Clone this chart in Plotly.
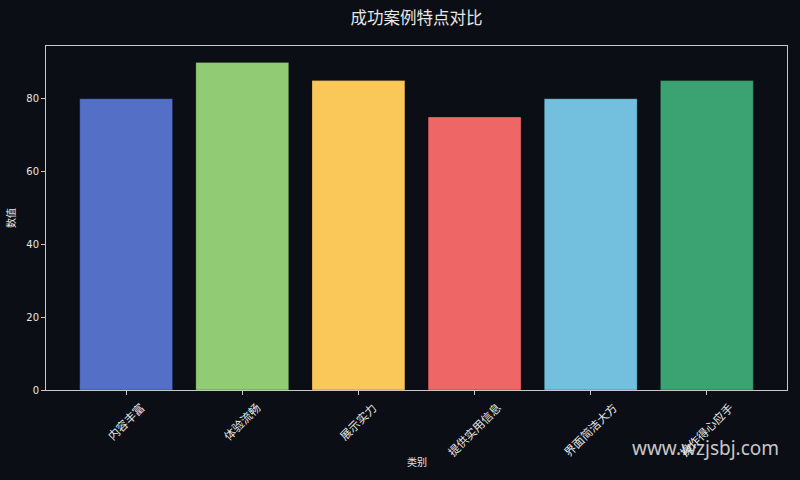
import plotly.graph_objects as go

categories = ["内容丰富", "体验流畅", "展示实力", "提供实用信息", "界面简洁大方", "操作得心应手"]
values = [80, 90, 85, 75, 80, 85]
colors = ["#5470c6", "#91cc75", "#fac858", "#ee6666", "#73c0de", "#3ba272"]
y_ticks = [0, 20, 40, 60, 80]

BG = "#0b0e14"
FG = "#e6e6e6"
SPINE = "#c8c8c8"
FONT = "DejaVu Sans, Noto Sans CJK SC, sans-serif"

L, R, T, B = 46, 13, 46, 90
pw, ph = 800 - L - R, 480 - T - B

fig = go.Figure()
fig.add_trace(go.Bar(
    x=categories, y=values, width=0.8,
    marker=dict(color=colors, line=dict(color="rgba(0,0,0,0.25)", width=1)),
    showlegend=False,
))

# rotated category labels (centered at tick, matplotlib style)
for c in categories:
    fig.add_annotation(
        x=c, xref="x", y=-0.022, yref="paper",
        text=c, textangle=-45, showarrow=False,
        xanchor="center", yanchor="top",
        font=dict(family=FONT, size=11.5, color=FG),
    )

fig.add_annotation(
    x=0.5, xref="paper", y=(480 - B - 462) / ph, yref="paper", text="类别", showarrow=False,
    xanchor="center", yanchor="middle",
    font=dict(family=FONT, size=10, color=FG),
)

fig.add_annotation(
    x=(781 - L) / pw, xref="paper", y=(480 - B - 448) / ph, yref="paper",
    text="www.wzjsbj.com", showarrow=False,
    font=dict(family="Noto Sans, DejaVu Sans, sans-serif", size=19, color="rgba(235,235,235,0.85)"),
    xanchor="right", yanchor="middle",
)

fig.update_layout(
    width=800, height=480,
    paper_bgcolor=BG, plot_bgcolor=BG,
    margin=dict(l=L, r=R, t=T, b=B),
    title=dict(text="成功案例特点对比", x=(46 + 787) / 2 / 800, xanchor="center",
               y=1 - 18 / 480, yanchor="middle",
               font=dict(family=FONT, size=16.5, color=FG)),
    font=dict(family=FONT, color=FG),
)
fig.update_xaxes(
    type="category", range=[-0.69, 5.69],
    showticklabels=False, ticks="outside", ticklen=4, tickcolor=SPINE, tickwidth=1,
    showline=True, linecolor=SPINE, linewidth=1, mirror=True,
    showgrid=False, zeroline=False,
)
fig.update_yaxes(
    range=[0, 94.5], tickvals=y_ticks, ticks="outside", ticklen=4, tickcolor=SPINE,
    tickwidth=1, tickfont=dict(family=FONT, size=10, color=FG),
    showline=True, linecolor=SPINE, linewidth=1, mirror=True,
    showgrid=False, zeroline=False,
    title=dict(text="数值", font=dict(family=FONT, size=10, color=FG), standoff=8),
)

fig.write_html(
    "out.html",
    config={"displayModeBar": False},
    post_script="document.body.style.margin='0px';document.body.style.background='%s';" % BG,
)
